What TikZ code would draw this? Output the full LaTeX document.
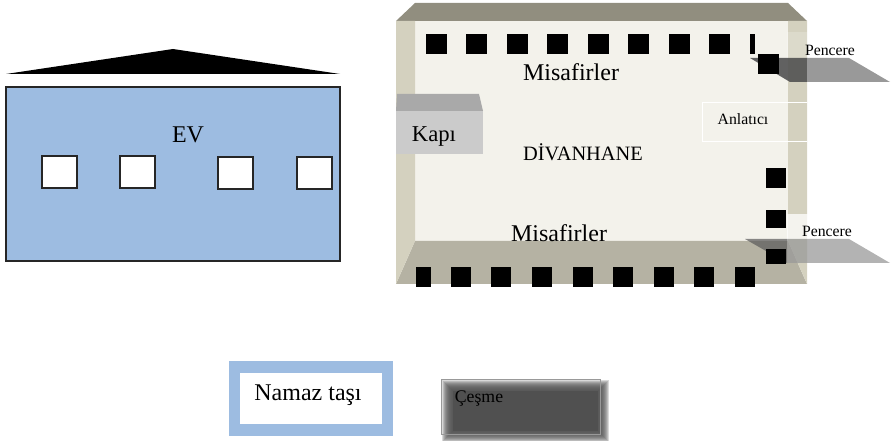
\documentclass[tikz,border=0pt]{standalone}
\usepackage{fontspec}
\setmainfont{Liberation Serif}
\definecolor{evblue}{HTML}{9DBCE1}
\definecolor{ceiling}{HTML}{918E7F}
\definecolor{sidewall}{HTML}{D4D1BF}
\definecolor{floorbg}{HTML}{F3F2EB}
\definecolor{floorband}{HTML}{B5B2A3}
\definecolor{kapitop}{HTML}{A9A9A9}
\definecolor{kapifront}{HTML}{CBCBCB}
\definecolor{cesmegray}{HTML}{505050}
\tikzset{
  bigtext/.style={font=\fontsize{18}{20}\selectfont,inner sep=0pt},
  midtext/.style={font=\fontsize{15.3}{18}\selectfont,inner sep=0pt},
  smalltext/.style={font=\fontsize{11.8}{14}\selectfont,inner sep=0pt},
  evwindow/.style={draw=black!85,fill=white,line width=1pt},
  blackbox/.style={fill=black}
}
\begin{document}
\begin{tikzpicture}[x=0.75pt,y=-0.75pt]
\useasboundingbox (0,0) rectangle (891,441);
%house
\fill[black] (6,74)--(173,49)--(340,74)--cycle;
\draw[black!85,fill=evblue,line width=1pt] (6,87) rectangle (340,261);
\draw[evwindow] (42,156) rectangle (77,188);
\draw[evwindow] (120,156) rectangle (155,188);
\draw[evwindow] (218,157) rectangle (253,189);
\draw[evwindow] (297,157) rectangle (332,189);
\path (188,135) node(ev)[bigtext]{EV};
%room
\fill[floorbg] (415,21) rectangle (788,241);
\fill[ceiling] (396,21)--(415,3)--(788,3)--(807,21)--cycle;
\fill[floorband] (415,241)--(788,241)--(807,284)--(396,284)--cycle;
\fill[sidewall] (396,21)--(415,21)--(415,241)--(396,284)--cycle;
\fill[sidewall] (788,21)--(807,21)--(807,284)--(788,241)--cycle;
\foreach \x in {426,466,507,547,588,628,669,709}
  \fill[blackbox] (\x,34) rectangle +(20.5,20.5);
\fill[blackbox] (750,34) rectangle (755,54);
\foreach \x in {451,491,532,573,613,654,694,735}
  \fill[blackbox] (\x,267) rectangle +(20,20);
\fill[blackbox] (415.5,267) rectangle (430.5,287);
\fill[blackbox] (766,168) rectangle (786,188);
\fill[blackbox] (766,210) rectangle (786,228);
%door
\fill[kapitop] (397,94)--(479,94)--(483,111)--(396,111)--cycle;
\fill[kapifront] (396,111) rectangle (483,154);
%narrator
\draw[white] (807,102)--(702,102)--(702,141)--(807,141);
%windows on the right
\fill[white,opacity=0.2] (787,32) rectangle (890,58);
\fill[black!68,opacity=0.9] (750,58)--(807,58)--(807,82)--(790,82)--cycle;
\fill[black!40] (807,58)--(849,58)--(890,82)--(807,82)--cycle;
\fill[black!65,opacity=0.7] (745,239)--(787,239)--(787,263)--cycle;
\fill[white,opacity=0.75] (787,214) rectangle (890,239);
\fill[black!40,opacity=0.75] (787,239)--(849,239)--(890,263)--(807,263)--(787,263)--cycle;
\fill[blackbox] (758,54) rectangle (779,74);
\fill[blackbox] (766,249) rectangle (786,264);
%texts
\path (571,72) node(misafirust)[bigtext]{Misafirler}
(559,233) node(misafiralt)[bigtext]{Misafirler}
(583,152) node(divanhane)[midtext]{DİVANHANE}
(434,136) node(kapi)[font=\fontsize{17}{20}\selectfont,inner sep=0pt]{Kapı}
(743,119) node(anlatici)[smalltext]{Anlatıcı}
(830,50) node(pencereust)[smalltext]{Pencere}
(827,231) node(pencerealt)[smalltext]{Pencere};
%bottom boxes
\fill[evblue] (229,361) rectangle (393,436);
\fill[white] (240,373) rectangle (382,424);
\path (308,395) node(namaz)[bigtext]{Namaz taşı};
\fill[white] (441,379) rectangle (600,434);
\foreach \i in {0,1,...,10}
  \fill[cesmegray,opacity=0.22] (442+\i,380+\i) rectangle (609-\i,442-\i);
\fill[cesmegray] (453,391) rectangle (598,431);
\draw[black!40,line width=0.75pt] (441,379) rectangle (600,434);
\path (479,398.5) node(cesme)[font=\fontsize{13.3}{15}\selectfont,inner sep=0pt]{Çeşme};
\end{tikzpicture}
\end{document}
